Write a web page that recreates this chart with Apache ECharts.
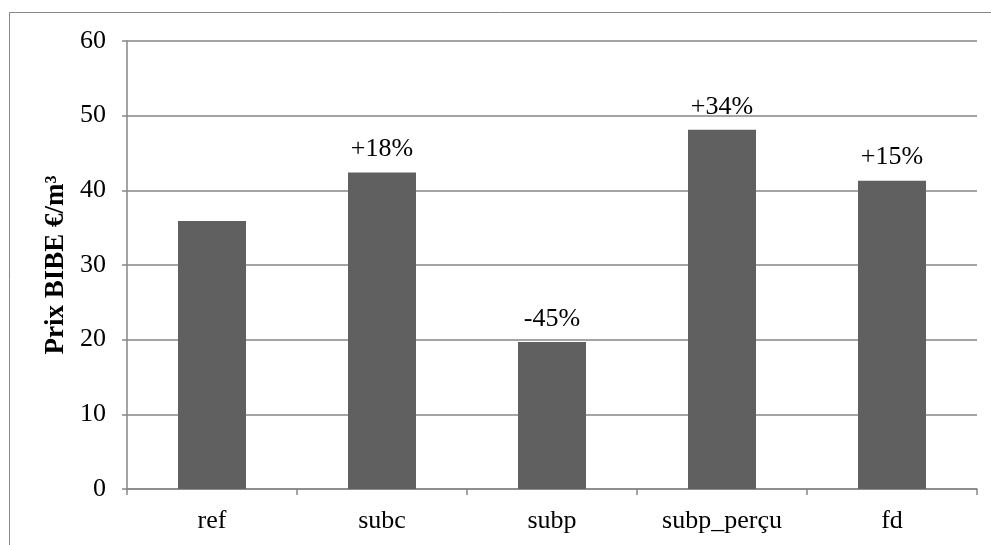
<!DOCTYPE html>
<html>
<head>
<meta charset="utf-8">
<script src="https://cdn.jsdelivr.net/npm/echarts@6/dist/echarts.min.js"></script>
<style>
  html, body { margin: 0; padding: 0; background: #fff; }
  #chart { width: 991px; height: 545px; }
</style>
</head>
<body>
<div id="chart"></div>
<script>
const categories = ['ref', 'subc', 'subp', 'subp_perçu', 'fd']
const prices = [35.9, 42.4, 19.7, 48.1, 41.3]
const changeLabels = ['', '+18%', '-45%', '+34%', '+15%']
const yTicks = [0, 10, 20, 30, 40, 50, 60]

const serif = '"Liberation Serif", "DejaVu Serif", serif'
const gray = '#868686'

const chart = echarts.init(document.getElementById('chart'))

chart.setOption({
  backgroundColor: '#fff',
  animation: false,
  graphic: [
    {
      type: 'rect',
      shape: { x: 9.5, y: 12.5, width: 1000, height: 560 },
      style: { fill: 'none', stroke: gray, lineWidth: 1 },
      silent: true,
    },
  ],
  grid: { left: 127, right: 14, top: 41, bottom: 56 },
  xAxis: {
    type: 'category',
    data: categories,
    axisLine: { lineStyle: { color: gray, width: 1.5 } },
    axisTick: { show: true, length: 6, lineStyle: { color: gray, width: 1.5 } },
    axisLabel: { color: '#000', fontFamily: serif, fontSize: 26, margin: 19 },
  },
  yAxis: {
    type: 'value',
    min: yTicks[0],
    max: yTicks[yTicks.length - 1],
    interval: 10,
    name: 'Prix BIBE €/m³',
    nameLocation: 'middle',
    nameRotate: 90,
    nameGap: 56,
    nameTextStyle: { color: '#000', fontFamily: serif, fontSize: 27, fontWeight: 'bold' },
    axisLine: { show: true, lineStyle: { color: gray, width: 1.5 } },
    axisTick: { show: true, length: 5, lineStyle: { color: gray, width: 1.5 } },
    axisLabel: { color: '#000', fontFamily: serif, fontSize: 26, margin: 21 },
    splitLine: { lineStyle: { color: gray, width: 1.5 } },
  },
  series: [
    {
      type: 'bar',
      data: prices,
      barWidth: '40%',
      itemStyle: { color: '#606060' },
      label: {
        show: true,
        position: 'top',
        distance: 10,
        color: '#000',
        fontFamily: serif,
        fontSize: 26,
        formatter: p => changeLabels[p.dataIndex],
      },
    },
  ],
})
</script>
</body>
</html>
